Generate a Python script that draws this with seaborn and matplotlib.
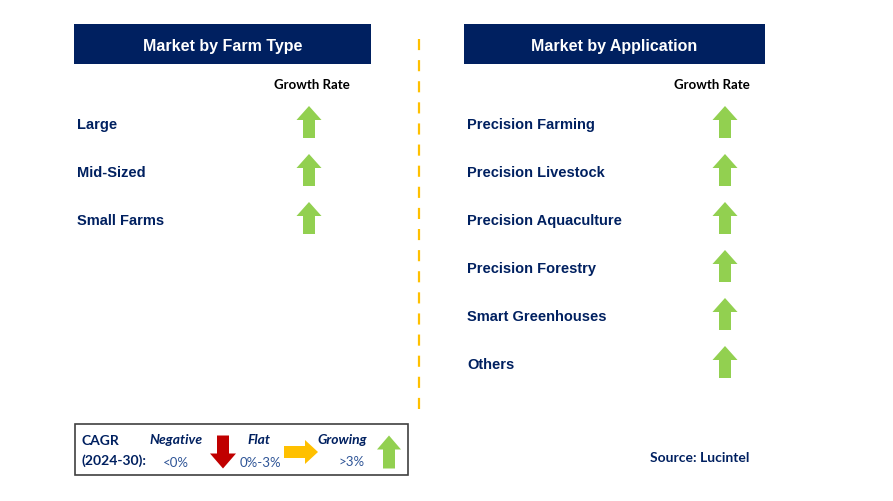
import matplotlib
matplotlib.use("Agg")
import matplotlib.pyplot as plt
import seaborn as sns
from matplotlib.patches import Rectangle, Polygon

# data
farm_types = ["Large", "Mid-Sized", "Small Farms"]
farm_growth = ["up", "up", "up"]
applications = ["Precision Farming", "Precision Livestock", "Precision Aquaculture",
                "Precision Forestry", "Smart Greenhouses", "Others"]
app_growth = ["up", "up", "up", "up", "up", "up"]

NAVY = "#002060"
GREEN = "#92D050"
RED = "#C00000"
YELLOW = "#FFC000"
ARROW_COLORS = {"up": GREEN, "down": RED, "right": YELLOW}

sns.set_theme(style="white")
plt.rcParams["font.family"] = ["Liberation Sans", "DejaVu Sans"]


def arrow(ax, cx, cy, direction, size=32, shaft=12, head_w=26, head_l=14):
    h = size / 2
    s = shaft / 2
    w = head_w / 2
    if direction == "up":
        pts = [(cx - s, cy + h), (cx - s, cy - h + head_l), (cx - w, cy - h + head_l),
               (cx, cy - h), (cx + w, cy - h + head_l), (cx + s, cy - h + head_l),
               (cx + s, cy + h)]
    elif direction == "down":
        pts = [(cx - s, cy - h), (cx - s, cy + h - head_l), (cx - w, cy + h - head_l),
               (cx, cy + h), (cx + w, cy + h - head_l), (cx + s, cy + h - head_l),
               (cx + s, cy - h)]
    else:
        pts = [(cx - h, cy - s), (cx + h - head_l, cy - s), (cx + h - head_l, cy - w),
               (cx + h, cy), (cx + h - head_l, cy + w), (cx + h - head_l, cy + s),
               (cx - h, cy + s)]
    ax.add_patch(Polygon(pts, closed=True, color=ARROW_COLORS[direction], lw=0))


fig = plt.figure(figsize=(8.93, 5.02), dpi=100)
ax = fig.add_axes([0, 0, 1, 1])
ax.set_xlim(0, 893)
ax.set_ylim(502, 0)
ax.axis("off")

panels = [
    (74, 297, "Market by Farm Type", farm_types, farm_growth, 312, 309, 77),
    (464, 301, "Market by Application", applications, app_growth, 712, 725, 467),
]
for x0, w, title, cats, growth, gr_x, arr_x, lab_x in panels:
    ax.add_patch(Rectangle((x0, 25), w, 40, color=NAVY, lw=0))
    ax.text(x0 + w / 2, 46, title, color="white", fontsize=11.5, fontweight="bold",
            ha="center", va="center")
    ax.text(gr_x, 85, "Growth Rate", color="black", fontsize=9.5, fontweight="bold",
            ha="center", va="center", family=["Lato", "DejaVu Sans"])
    for i, (c, g) in enumerate(zip(cats, growth)):
        y = 124 + i * 48
        ax.text(lab_x, y + 1.5, c, color=NAVY, fontsize=10.5, fontweight="bold",
                ha="left", va="center")
        arrow(ax, arr_x, y - 1, g, size=32, head_w=25)

# divider
ax.plot([419, 419], [40, 410], color=YELLOW, lw=1.6, ls=(0, (5, 4.5)))

# legend box
ax.add_patch(Rectangle((75, 425), 333, 51, fill=False, ec="#404040", lw=1.2))
lg = dict(family=["Lato", "DejaVu Sans"], va="center")
ax.text(81, 441, "CAGR", color=NAVY, fontsize=10, fontweight="bold", ha="left", **lg)
ax.text(81, 461, "(2024-30):", color=NAVY, fontsize=10, fontweight="bold", ha="left", **lg)
ax.text(176, 440, "Negative", color=NAVY, fontsize=10, fontweight="bold", style="italic",
        ha="center", **lg)
ax.text(176, 463, "<0%", color="#2F5597", fontsize=9.5, ha="center", **lg)
arrow(ax, 223, 453, "down", size=33, shaft=12, head_w=26, head_l=15)
ax.text(259, 440, "Flat", color=NAVY, fontsize=10, fontweight="bold", style="italic",
        ha="center", **lg)
ax.text(260, 463, "0%-3%", color="#2F5597", fontsize=9.5, ha="center", **lg)
arrow(ax, 301, 453, "right", size=34, shaft=12, head_w=24, head_l=13)
ax.text(342, 440, "Growing", color=NAVY, fontsize=10, fontweight="bold", style="italic",
        ha="center", **lg)
ax.text(352, 462, ">3%", color="#2F5597", fontsize=9.5, ha="center", **lg)
arrow(ax, 389, 453, "up", size=33, shaft=12, head_w=24, head_l=14)

ax.text(700, 458, "Source: Lucintel", color=NAVY, fontsize=10, fontweight="bold",
        ha="center", va="center", family=["Lato", "DejaVu Sans"])

fig.savefig("out.png", dpi=100)
